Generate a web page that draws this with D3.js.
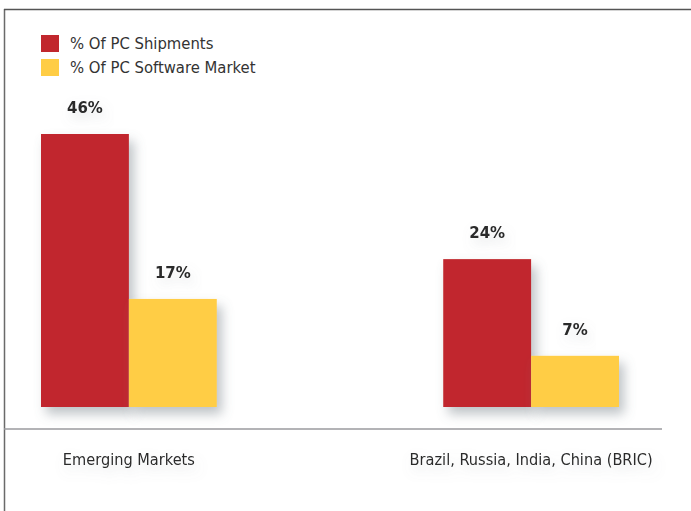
<!DOCTYPE html>
<html>
<head>
<meta charset="utf-8">
<script src="https://cdn.jsdelivr.net/npm/d3@7/dist/d3.min.js"></script>
<style>
  html, body { margin: 0; padding: 0; background: #fff; }
  svg { display: block; }
  text { font-family: "Liberation Sans Narrow", "DejaVu Sans Condensed", "Arial Narrow", sans-serif; }
</style>
</head>
<body>
<svg id="chart" width="691" height="511"></svg>
<script>
// Share of PC shipments vs. share of PC software market
const categories = ["Emerging Markets", "Brazil, Russia, India, China (BRIC)"];
const seriesNames = ["% Of PC Shipments", "% Of PC Software Market"];
const shipments = [46, 24];
const softwareMarket = [17, 7];
const seriesColors = ["#c1272d", "#ffcd45"];

const svg = d3.select("#chart");
const W = 691, H = 511;

// soft drop shadow used by bars and labels
const defs = svg.append("defs");
const shadow = defs.append("filter").attr("id", "shadow")
  .attr("x", "-30%").attr("y", "-30%").attr("width", "170%").attr("height", "170%");
shadow.append("feDropShadow")
  .attr("dx", 5).attr("dy", 7).attr("stdDeviation", 6)
  .attr("flood-color", "#707880").attr("flood-opacity", 0.45);
const textShadow = defs.append("filter").attr("id", "textShadow")
  .attr("x", "-30%").attr("y", "-60%").attr("width", "160%").attr("height", "240%");
textShadow.append("feDropShadow")
  .attr("dx", 3).attr("dy", 6).attr("stdDeviation", 6)
  .attr("flood-color", "#8a9096").attr("flood-opacity", 0.25);

// frame
svg.append("line").attr("x1", 4.5).attr("x2", 4.5).attr("y1", 9).attr("y2", H)
  .attr("stroke", "#6a6a6a").attr("stroke-width", 1.5);
svg.append("line").attr("x1", 4).attr("x2", W).attr("y1", 9.5).attr("y2", 9.5)
  .attr("stroke", "#555").attr("stroke-width", 1.6);

const data = categories.map((c, i) => ({ category: c, values: [shipments[i], softwareMarket[i]] }));

const x0 = d3.scaleBand().domain(categories).range([41, 619]).paddingInner(0.563).paddingOuter(0);
const x1 = d3.scaleBand().domain(d3.range(seriesNames.length)).range([0, x0.bandwidth()]).padding(0);
const y = d3.scaleLinear().domain([-2, 46]).range([407, 134]);
const base = y(-2);

const groups = svg.append("g").selectAll("g").data(data).join("g")
  .attr("transform", d => `translate(${x0(d.category)},0)`);

groups.selectAll("rect").data(d => d.values.map((v, i) => ({ v, i }))).join("rect")
  .attr("x", d => x1(d.i))
  .attr("width", x1.bandwidth())
  .attr("y", d => y(d.v))
  .attr("height", d => base - y(d.v))
  .attr("fill", d => seriesColors[d.i])
  .attr("filter", "url(#shadow)");

groups.selectAll("text.value").data(d => d.values.map((v, i) => ({ v, i }))).join("text")
  .attr("class", "value")
  .attr("x", d => x1(d.i) + x1.bandwidth() / 2)
  .attr("y", d => y(d.v) - 21)
  .attr("text-anchor", "middle")
  .attr("font-weight", "bold")
  .attr("fill", "#2a2a2a")
  .attr("filter", "url(#textShadow)")
  .style("font-family", "'DejaVu Sans', sans-serif")
  .style("font-size", "15px")
  .text(d => d.v + "%");

// baseline axis
const axis = svg.append("g").attr("transform", "translate(0,429)");
axis.append("line").attr("x1", 4).attr("x2", 662).attr("stroke", "#9a9a9e").attr("stroke-width", 1.6);
axis.selectAll("text").data(categories).join("text")
  .attr("x", d => x0(d) + x0.bandwidth() / 2)
  .attr("y", 36)
  .attr("text-anchor", "middle")
  .attr("font-size", 16.2)
  .attr("fill", "#2b2b2b")
  .attr("filter", "url(#textShadow)")
  .text(d => d);

// legend
const legend = svg.append("g").attr("transform", "translate(41,35)");
const items = legend.selectAll("g").data(seriesNames).join("g")
  .attr("transform", (d, i) => `translate(0,${i * 24})`);
items.append("rect").attr("width", 18).attr("height", 17).attr("fill", (d, i) => seriesColors[i]);
items.append("text").attr("x", 29).attr("y", 14)
  .attr("font-size", 16.5).attr("fill", "#333").text(d => d);
</script>
</body>
</html>
